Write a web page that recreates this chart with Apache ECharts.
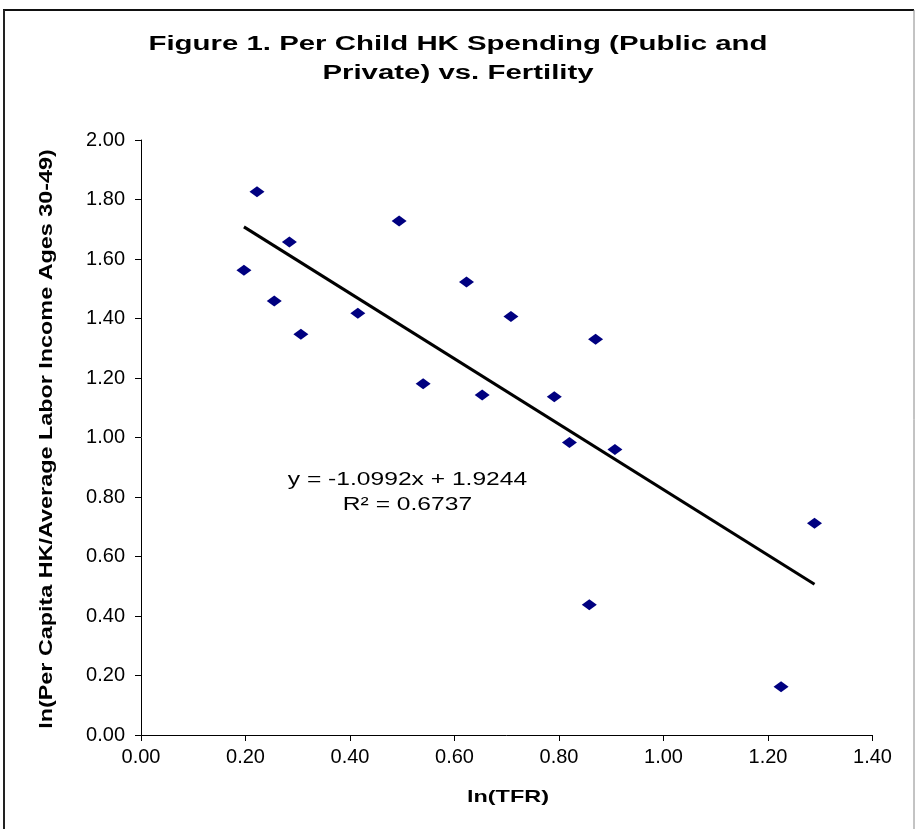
<!DOCTYPE html>
<html>
<head>
<meta charset="utf-8">
<script src="https://cdn.jsdelivr.net/npm/echarts@6/dist/echarts.min.js"></script>
<style>
html,body{margin:0;padding:0;background:#fff;}
#chart{width:915px;height:829px;}
</style>
</head>
<body>
<div id="chart"></div>
<script>
// ln(TFR) values
const lnTFR = [0.197, 0.222, 0.255, 0.284, 0.306, 0.415, 0.494, 0.540, 0.623, 0.653, 0.708, 0.791, 0.820, 0.858, 0.870, 0.907, 1.225, 1.289];
// ln(Per Capita HK / Average Labor Income Ages 30-49)
const lnHK = [1.562, 1.826, 1.459, 1.657, 1.347, 1.418, 1.728, 1.181, 1.523, 1.143, 1.407, 1.137, 0.983, 0.438, 1.330, 0.960, 0.162, 0.712];
// Linear trend line endpoints (as drawn)
const trendX = [0.197, 1.289];
const trendY = [1.708, 0.507];
const xTicks = ['0.00','0.20','0.40','0.60','0.80','1.00','1.20','1.40'];
const yTicks = ['0.00','0.20','0.40','0.60','0.80','1.00','1.20','1.40','1.60','1.80','2.00'];
const titleLines = ['Figure 1. Per Child HK Spending (Public and', 'Private) vs. Fertility'];
const xName = 'ln(TFR)';
const yName = 'ln(Per Capita HK/Average Labor Income Ages 30-49)';
const equationText = 'y = -1.0992x + 1.9244';
const r2Text = 'R² = 0.6737';

const chart = echarts.init(document.getElementById('chart'), null, {renderer:'canvas'});
const font = '"Liberation Sans", Arial, sans-serif';
const option = {
  backgroundColor: '#ffffff',
  animation: false,
  grid: {left: 141, top: 140, right: 42.5, bottom: 94, containLabel: false},
  xAxis: {
    type: 'value', min: 0, max: 1.4, interval: 0.2,
    axisLine: {show: true, lineStyle: {color: '#000', width: 1}},
    axisTick: {show: true, inside: false, length: 6, lineStyle: {color: '#000'}},
    splitLine: {show: false},
    axisLabel: {fontFamily: font, fontSize: 20, color: '#000', margin: 12,
      formatter: (v) => xTicks[Math.round(v / 0.2)]}
  },
  yAxis: {
    type: 'value', min: 0, max: 2, interval: 0.2,
    axisLine: {show: true, lineStyle: {color: '#000', width: 1}},
    axisTick: {show: true, inside: false, length: 6, lineStyle: {color: '#000'}},
    splitLine: {show: false},
    axisLabel: {fontFamily: font, fontSize: 20, color: '#000', margin: 16,
      formatter: (v) => yTicks[Math.round(v / 0.2)]}
  },
  series: [
    {
      type: 'scatter',
      data: lnTFR.map((x, i) => [x, lnHK[i]]),
      symbol: 'diamond',
      symbolSize: [15, 11],
      itemStyle: {color: '#000080', opacity: 1},
      z: 3
    },
    {
      type: 'line',
      data: trendX.map((x, i) => [x, trendY[i]]),
      showSymbol: false,
      symbol: 'none',
      lineStyle: {color: '#000', width: 3},
      z: 2
    }
  ]
};
chart.setOption(option);

const eqPos = chart.convertToPixel({gridIndex: 0}, [0.51, 0.856]);
const r2Pos = chart.convertToPixel({gridIndex: 0}, [0.51, 0.774]);
const txt = (id, x, y, text, size, weight, sx, rot, fam) => ({
  type: 'text', id: id, x: x, y: y, scaleX: sx, rotation: rot || 0, silent: true,
  style: {text: text, fontFamily: fam || font, fontSize: size, fontWeight: weight, fill: '#000', align: 'center', verticalAlign: 'middle', textAlign: 'center', textVerticalAlign: 'middle'}
});
chart.setOption({
  graphic: [
    {type: 'line', id: 'bt', shape: {x1: 3, y1: 10, x2: 914, y2: 10}, style: {stroke: '#111', lineWidth: 2}, silent: true},
    {type: 'line', id: 'bl', shape: {x1: 4, y1: 10, x2: 4, y2: 829}, style: {stroke: '#222', lineWidth: 2}, silent: true},
    {type: 'line', id: 'br', shape: {x1: 914, y1: 10, x2: 914, y2: 829}, style: {stroke: '#888', lineWidth: 1}, silent: true},
    txt('t1', 458, 44, titleLines[0], 20, 'bold', 1.47),
    txt('t2', 458, 73, titleLines[1], 20, 'bold', 1.47),
    txt('xn', 508, 797, xName, 17, 'bold', 1.38),
    txt('yn', 47, 439, yName, 19, 'bold', 1.23, Math.PI / 2),
    txt('eq', eqPos[0], eqPos[1], equationText, 18.5, 'normal', 1.33),
    txt('r2', r2Pos[0], r2Pos[1], r2Text, 18.5, 'normal', 1.33)
  ]
});
</script>
</body>
</html>
